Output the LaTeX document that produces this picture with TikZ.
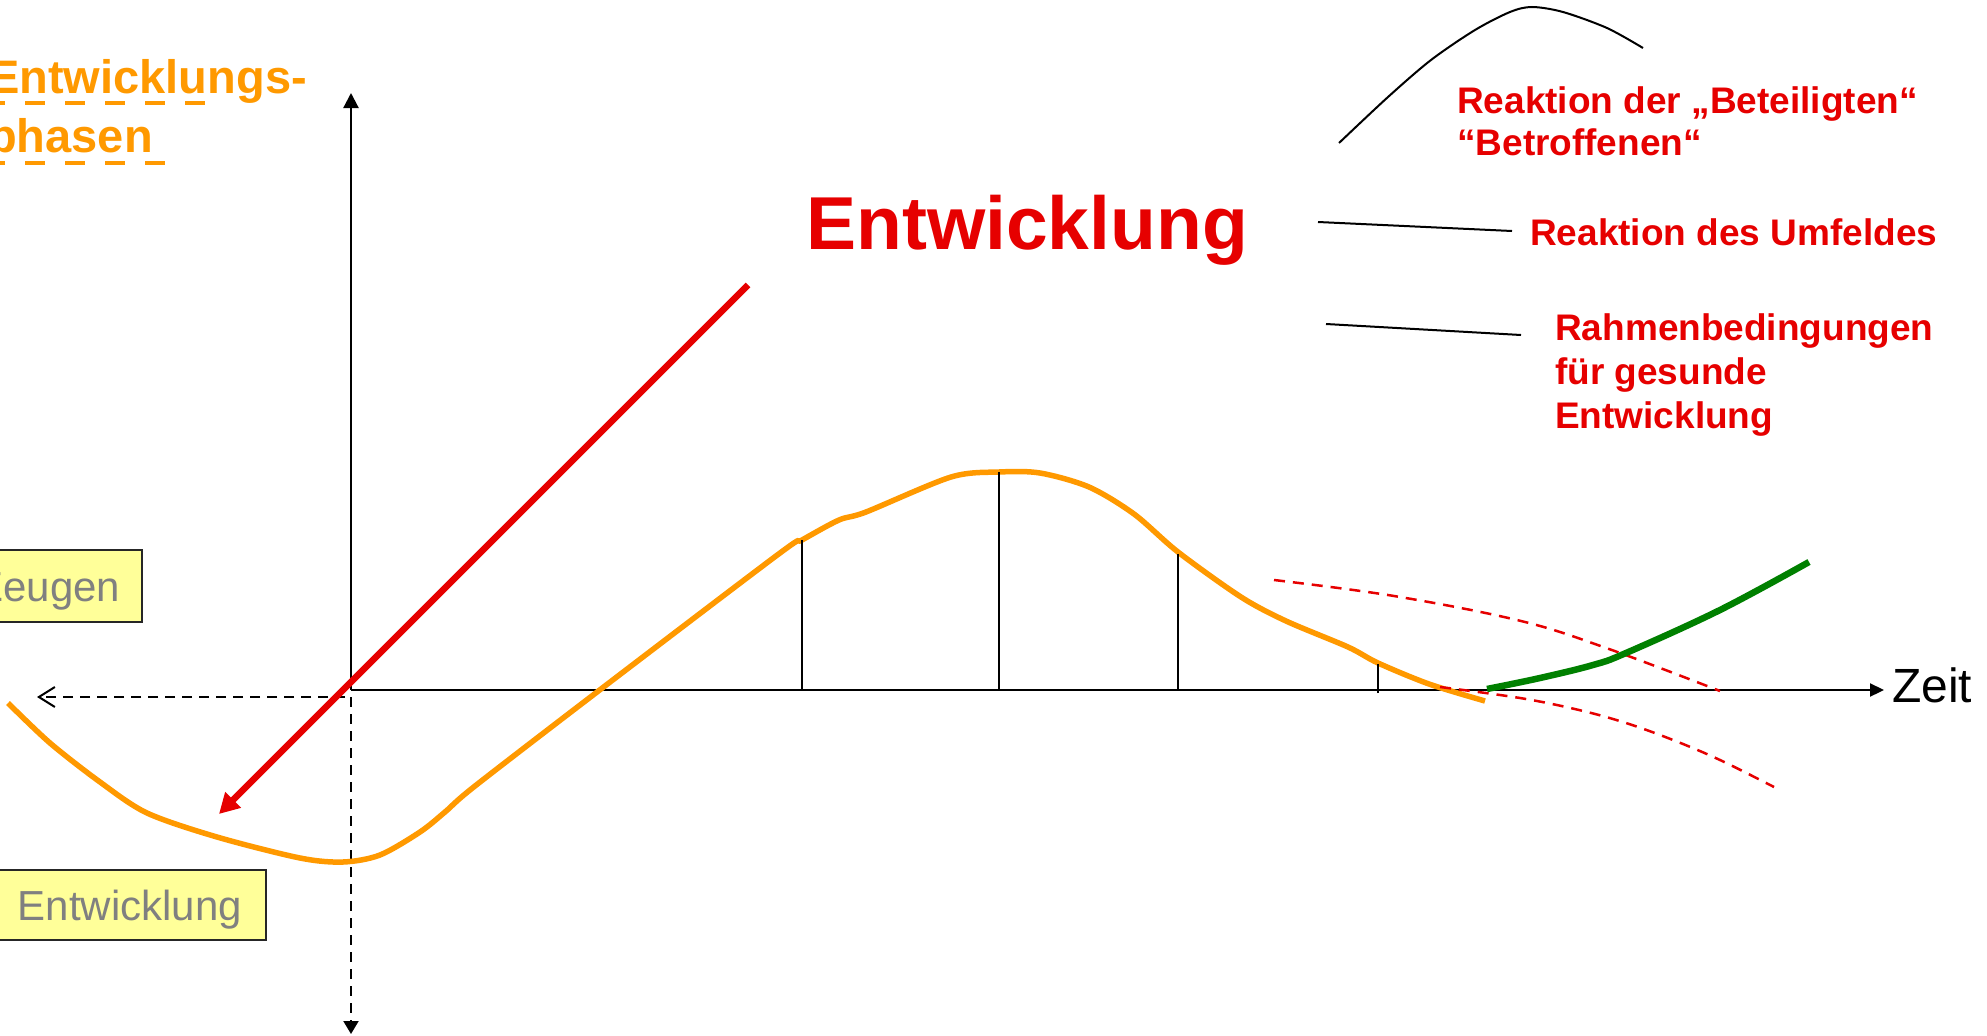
\documentclass[tikz,border=0pt]{standalone}
\usepackage{fontspec}
\setmainfont{Liberation Sans}
\usetikzlibrary{arrows.meta}
\definecolor{orng}{RGB}{255,153,0}
\definecolor{rd}{RGB}{230,0,0}
\definecolor{grn}{RGB}{0,128,0}
\definecolor{yel}{RGB}{255,255,153}
\definecolor{gry}{RGB}{128,128,128}
\tikzset{
  axisline/.style={line width=2.2pt,black},
  dashline/.style={line width=2pt,black,dash pattern=on 10pt off 7pt},
  tickline/.style={line width=2pt,black},
  calloutline/.style={line width=2pt,black},
  redlabel/.style={anchor=base west,inner sep=0pt,text=rd,font=\fontsize{37}{42}\selectfont\bfseries},
  titletext/.style={anchor=base west,inner sep=0pt,text=orng,font=\fontsize{47}{52}\selectfont\bfseries},
  yellowbox/.style={draw=black!85,line width=2pt,fill=yel,text=gry,inner sep=0pt,text height=31pt,text depth=0pt,font=\fontsize{42}{48}\selectfont},
  reddash/.style={rd,line width=2.5pt,dash pattern=on 11pt off 8pt},
  orangeunder/.style={orng,line width=4pt,dash pattern=on 20pt off 20pt}
}
\begin{document}
\begin{tikzpicture}[x=1pt,y=-1pt]
\useasboundingbox (0,0) rectangle (1987,1036);

% title
\node[titletext] (title1) at (-12,93) {Entwicklungs-};
\node[titletext] (title2) at (-12,152) {phasen};
\draw[orangeunder] (-15,103) -- (210,103);
\draw[orangeunder] (-15,163) -- (171,163);

% axes
\coordinate (O) at (351,690);
\coordinate (ytop) at (351,93);
\coordinate (xend) at (1884,690);
\coordinate (ybot) at (351,1034);
\coordinate (xleft) at (37,697);
\coordinate (dh) at (345,697);
\coordinate (dv) at (351,697);
\draw[axisline,-{Triangle[length=15pt,width=15pt]}] (O) -- (ytop);
\draw[axisline,-{Triangle[length=14pt,width=13pt]}] (O) -- (xend);
\draw[dashline,-{Straight Barb[length=16pt,width=20pt,line width=2pt]}] (dh) -- (xleft);
\draw[dashline,-{Triangle[length=13pt,width=15pt]}] (dv) -- (ybot);
\node[anchor=base west,inner sep=0pt,font=\fontsize{48}{54}\selectfont] (zeit) at (1892,702) {Zeit};

% yellow boxes
\node[yellowbox,minimum width=186pt,minimum height=72pt] (zeugen) at (49,586) {Zeugen};
\node[yellowbox,minimum width=272pt,minimum height=70pt] (entw) at (130,905) {Entwicklung};

% orange curve
\draw[orng,line width=5.5pt,line join=round] plot[smooth,tension=0.5] coordinates {
 (8,703) (50,743) (100,782) (147,813) (217,837) (300,858) (343,862) (380,855)
 (420,832) (445,812) (475,786) (601,689) (780,553) (802,540) (839,520) (866,512)
 (951,477) (999,472) (1040,473) (1089,487) (1134,514) (1178,552) (1241,597)
 (1286,621) (1348,647) (1378,663) (1429,684) (1485,701)};

% ticks
\draw[tickline] (802,690) -- (802,540);
\draw[tickline] (999,690) -- (999,472);
\draw[tickline] (1178,690) -- (1178,554);
\draw[tickline] (1378,693) -- (1378,664);

% red dashed curves
\draw[reddash] plot[smooth,tension=0.6] coordinates {(1274,580) (1394,596) (1521,621) (1609,649) (1720,691)};
\draw[reddash] plot[smooth,tension=0.6] coordinates {(1440,687) (1520,698) (1579,710) (1626,723) (1673,740) (1720,760) (1774,787)};

% green curve
\draw[grn,line width=6.5pt] plot[smooth,tension=0.6] coordinates {(1487,689) (1540,678) (1593,665) (1626,653) (1720,610) (1809,562)};

% red arrow
\coordinate (rstart) at (748,285);
\coordinate (rend) at (219,814);
\draw[rd,line width=6.5pt,-{Triangle[length=20pt,width=21pt]}] (rstart) -- (rend);

% big label
\node[anchor=base west,inner sep=0pt,text=rd,font=\fontsize{75}{86}\selectfont\bfseries] (bigentw) at (806,249) {Entwicklung};

% red labels
\node[redlabel] (lab1) at (1457,113) {Reaktion der „Beteiligten“};
\node[redlabel] (lab2) at (1457,155) {“Betroffenen“};
\node[redlabel] (lab3) at (1530,245) {Reaktion des Umfeldes};
\node[redlabel] (lab4) at (1555,340) {Rahmenbedingungen};
\node[redlabel] (lab5) at (1555,384) {für gesunde};
\node[redlabel] (lab6) at (1555,428) {Entwicklung};

% callout lines
\draw[calloutline] plot[smooth,tension=0.5] coordinates {(1339,143) (1388,97) (1431,60) (1475,30) (1510,12) (1532,7) (1563,12) (1607,28) (1643,48)};
\draw[calloutline] (1318,222) -- (1512,231);
\draw[calloutline] (1326,324) -- (1521,335);
\end{tikzpicture}
\end{document}
